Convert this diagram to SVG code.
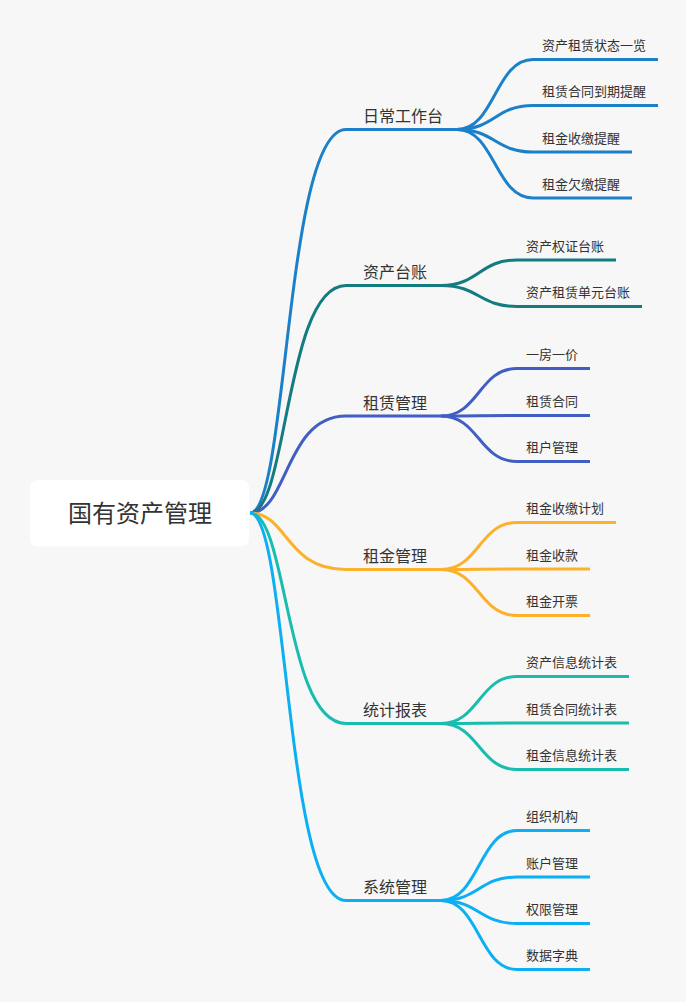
<svg xmlns="http://www.w3.org/2000/svg" width="686" height="1002" viewBox="0 0 686 1002">
<style>
text{font-family:"Noto Sans CJK SC","Noto Sans",sans-serif;fill:#333;}
.l1{font-size:16px;}
.l2{font-size:13px;}
.root{font-size:24px;text-anchor:middle;}
path{fill:none;stroke-width:3;stroke-linecap:butt;}
.c1{stroke:#1b80c8}.c2{stroke:#147b80}.c3{stroke:#3f5fc3}.c4{stroke:#fdb12b}.c5{stroke:#18bdb0}.c6{stroke:#0cb0f2}
</style>
<rect width="686" height="1002" fill="#f7f7f7"/>
<g id="connectors">
<path class="c1" d="M250,513 C288,513 285,129.5 346,129.5 H457"/>
<path class="c1" d="M457,129.5 C495,129.5 495,59.5 533,59.5 H658"/>
<path class="c1" d="M457,129.5 C495,129.5 495,105.5 533,105.5 H658"/>
<path class="c1" d="M457,129.5 C495,129.5 495,152 533,152 H632"/>
<path class="c1" d="M457,129.5 C495,129.5 495,198 533,198 H632"/>
<path class="c2" d="M250,513 C288,513 285,285.5 346,285.5 H441"/>
<path class="c2" d="M441,285.5 C479,285.5 479,260 517,260 H616"/>
<path class="c2" d="M441,285.5 C479,285.5 479,306.5 517,306.5 H642"/>
<path class="c3" d="M250,513 C288,513 285,416 346,416 H441"/>
<path class="c3" d="M441,416 C479,416 479,368.5 517,368.5 H590"/>
<path class="c3" d="M441,416 C479,416 479,415.5 517,415.5 H590"/>
<path class="c3" d="M441,416 C479,416 479,461.5 517,461.5 H590"/>
<path class="c4" d="M250,513 C288,513 285,569.5 346,569.5 H441"/>
<path class="c4" d="M441,569.5 C479,569.5 479,522.5 517,522.5 H616"/>
<path class="c4" d="M441,569.5 C479,569.5 479,569 517,569 H590"/>
<path class="c4" d="M441,569.5 C479,569.5 479,615.5 517,615.5 H590"/>
<path class="c5" d="M250,513 C288,513 285,723.5 346,723.5 H441"/>
<path class="c5" d="M441,723.5 C479,723.5 479,676.5 517,676.5 H629"/>
<path class="c5" d="M441,723.5 C479,723.5 479,723 517,723 H629"/>
<path class="c5" d="M441,723.5 C479,723.5 479,769.5 517,769.5 H629"/>
<path class="c6" d="M250,513 C288,513 285,900.5 346,900.5 H441"/>
<path class="c6" d="M441,900.5 C479,900.5 479,830.5 517,830.5 H590"/>
<path class="c6" d="M441,900.5 C479,900.5 479,877 517,877 H590"/>
<path class="c6" d="M441,900.5 C479,900.5 479,923.5 517,923.5 H590"/>
<path class="c6" d="M441,900.5 C479,900.5 479,969.5 517,969.5 H590"/>
</g>
<g id="root">
<rect x="30" y="480" width="219" height="66.5" rx="7" fill="#ffffff"/>
<text class="root" x="140" y="521.5">国有资产管理</text>
</g>
<g id="n1"><text class="l1" x="363" y="122">日常工作台</text></g>
<g id="n1-1"><text class="l2" x="542" y="50">资产租赁状态一览</text></g>
<g id="n1-2"><text class="l2" x="542" y="96">租赁合同到期提醒</text></g>
<g id="n1-3"><text class="l2" x="542" y="142.5">租金收缴提醒</text></g>
<g id="n1-4"><text class="l2" x="542" y="188.5">租金欠缴提醒</text></g>
<g id="n2"><text class="l1" x="363" y="278">资产台账</text></g>
<g id="n2-1"><text class="l2" x="526" y="250.5">资产权证台账</text></g>
<g id="n2-2"><text class="l2" x="526" y="297">资产租赁单元台账</text></g>
<g id="n3"><text class="l1" x="363" y="408.5">租赁管理</text></g>
<g id="n3-1"><text class="l2" x="526" y="359">一房一价</text></g>
<g id="n3-2"><text class="l2" x="526" y="406">租赁合同</text></g>
<g id="n3-3"><text class="l2" x="526" y="452">租户管理</text></g>
<g id="n4"><text class="l1" x="363" y="562">租金管理</text></g>
<g id="n4-1"><text class="l2" x="526" y="513">租金收缴计划</text></g>
<g id="n4-2"><text class="l2" x="526" y="559.5">租金收款</text></g>
<g id="n4-3"><text class="l2" x="526" y="606">租金开票</text></g>
<g id="n5"><text class="l1" x="363" y="716">统计报表</text></g>
<g id="n5-1"><text class="l2" x="526" y="667">资产信息统计表</text></g>
<g id="n5-2"><text class="l2" x="526" y="713.5">租赁合同统计表</text></g>
<g id="n5-3"><text class="l2" x="526" y="760">租金信息统计表</text></g>
<g id="n6"><text class="l1" x="363" y="893">系统管理</text></g>
<g id="n6-1"><text class="l2" x="526" y="821">组织机构</text></g>
<g id="n6-2"><text class="l2" x="526" y="867.5">账户管理</text></g>
<g id="n6-3"><text class="l2" x="526" y="914">权限管理</text></g>
<g id="n6-4"><text class="l2" x="526" y="960">数据字典</text></g>
</svg>
